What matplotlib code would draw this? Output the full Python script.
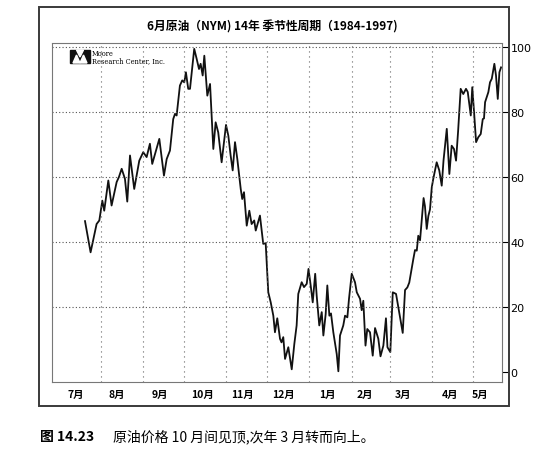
import matplotlib
matplotlib.use("Agg")
import matplotlib.pyplot as plt
from matplotlib.patches import Rectangle, Polygon

plt.rcParams['font.family'] = ['Noto Sans CJK SC', 'DejaVu Sans']

title = "6月原油（NYM) 14年 季节性周期（1984-1997)"
caption_num = "图 14.23"
caption_txt = "原油价格 10 月间见顶,次年 3 月转而向上。"

# days since 1 July
month_starts = [31, 62, 92, 123, 153, 184, 215, 243, 274, 304]
month_labels = ["7月", "8月", "9月", "10月", "11月", "12月", "1月", "2月", "3月", "4月", "5月"]
month_label_pos = [12.8, 42.8, 74.4, 105.2, 134.5, 164.6, 196.9, 224.7, 252.6, 287.1, 309.1]
y_ticks = [0, 20, 40, 60, 80, 100]

days = [19.4, 23.5, 27.9, 29.9, 32.1, 33.5, 36.5, 38.9, 42.6, 44.3, 46.3, 48.7, 50.4, 52.4, 55.5,
        59.2, 62.1, 64.6, 67.0, 68.7, 73.9, 77.3, 79.3, 81.7, 84.1, 85.4, 86.6, 89.0, 90.7, 92.2,
        93.4, 95.1, 96.4, 99.5, 101.3, 103.0, 104.2, 105.7, 106.9, 109.1, 111.1, 113.5, 115.2, 117.1,
        119.6, 122.8, 124.5, 126.2, 127.7, 129.4, 131.1, 133.6, 134.7, 136.0, 138.0, 139.9, 141.6,
        143.5, 144.6, 147.7, 150.1, 151.9, 153.8, 155.6, 157.5, 158.7, 160.4, 162.4, 163.5, 164.8,
        166.1, 168.5, 171.0, 172.9, 174.6, 175.8, 178.3, 180.0, 182.0, 183.3, 184.9, 186.4, 188.2,
        189.3, 191.2, 193.0, 194.2, 195.9, 197.1, 198.6, 199.8, 201.5, 204.0, 205.2, 206.4, 208.8,
        210.1, 211.8, 213.0, 215.0, 217.4, 218.7, 221.1, 222.3, 223.5, 225.1, 226.4, 228.4, 230.4,
        232.1, 234.5, 236.1, 238.2, 240.1, 241.2, 243.3, 245.1, 247.5, 252.4, 254.1, 255.8, 257.2,
        260.2, 261.4, 262.7, 263.8, 265.1, 267.7, 268.7, 270.0, 271.2, 272.4, 273.7, 274.8, 277.3,
        279.2, 281.0, 282.3, 284.7, 286.6, 288.3, 290.0, 291.5, 293.0, 294.9, 296.8, 298.8, 300.1,
        302.3, 303.4, 304.7, 306.2, 307.8, 309.6, 311.1, 312.0, 312.8, 315.2, 316.4, 317.7, 319.6,
        320.8, 322.1, 323.3, 324.5]
values = [46.4, 36.8, 45.5, 46.6, 52.7, 49.6, 58.9, 51.2, 58.4, 60.0, 62.5, 59.4, 52.4, 66.6, 56.3,
          65.0, 67.6, 66.1, 70.2, 64.0, 71.7, 60.4, 65.5, 68.1, 77.8, 79.4, 78.9, 88.1, 89.7, 89.1,
          92.2, 87.1, 87.1, 99.4, 96.3, 93.2, 94.8, 91.2, 97.3, 85.0, 88.6, 68.6, 76.8, 73.7,
          64.5, 76.0, 72.7, 66.6, 62.0, 70.7, 65.5, 56.3, 53.2, 55.3, 45.0, 49.6, 45.5,
          46.6, 43.5, 48.1, 39.4, 39.6, 24.5, 21.4, 17.3, 12.2, 16.5, 10.2, 9.1, 10.7,
          4.0, 7.6, 0.8, 8.6, 14.3, 24.0, 27.6, 26.1, 27.1, 31.7, 26.6, 21.4, 30.2,
          23.5, 14.3, 18.4, 11.2, 17.8, 26.6, 17.3, 18.0, 12.2, 5.5, 0.2, 11.2, 14.3,
          17.3, 16.8, 22.5, 30.2, 27.6, 24.5, 22.5, 19.0, 21.9, 8.1, 13.2, 12.2, 5.0,
          13.5, 10.2, 4.8, 8.1, 16.5, 7.6, 6.1, 24.5, 24.0, 12.0, 25.2, 26.0, 27.5,
          34.8, 37.5, 37.3, 41.9, 40.5, 53.5, 51.0, 44.0, 48.0, 50.0, 56.8, 59.4, 64.5,
          62.0, 57.3, 65.0, 74.8, 60.9, 69.6, 68.6, 65.0, 74.0, 87.1, 85.5, 87.1, 86.1,
          78.9, 87.6, 80.0, 70.7, 72.2, 73.2, 77.8, 78.0, 83.0, 86.1, 89.1, 90.2, 94.8,
          91.2, 84.0, 92.2, 93.7]

W, H = 549, 452
fig = plt.figure(figsize=(W / 100, H / 100), dpi=100)
fig.patch.set_facecolor("white")

# outer frame
fig.add_artist(Rectangle((39 / W, 1 - 407 / H), (509 - 39) / W, (407 - 8) / H,
                         transform=fig.transFigure, fill=False, edgecolor="#3a3a3a", lw=1.4))

ax = fig.add_axes([52 / W, 1 - 383 / H, (502 - 52) / W, (383 - 44) / H])
ax.plot(days, values, color="#111111", lw=1.3)
ax.set_xlim(-4.8, 325.2)
ax.set_ylim(-3.1, 101.2)

for d in month_starts:
    ax.axvline(d, color="#666666", lw=0.8, ls=(0, (1, 3.5)))
for v in [20, 40, 60, 80, 100]:
    ax.axhline(v, color="#555555", lw=0.8, ls=(0, (1, 2)))

ax.yaxis.tick_right()
ax.set_yticks(y_ticks)
ax.set_yticklabels([str(v) for v in y_ticks], fontsize=8, family="DejaVu Sans")
ax.tick_params(axis="y", direction="out", length=4, width=0.8, pad=2)
ax.set_xticks(month_label_pos)
ax.set_xticklabels(month_labels, fontsize=7.5, fontweight="bold")
ax.tick_params(axis="x", length=0, pad=5)
for s in ax.spines.values():
    s.set_color("#777777")
    s.set_linewidth(0.8)
    s.set_linestyle((0, (2, 1)))

# logo (Moore Research Center)
fig.add_artist(Rectangle((70 / W, 1 - 64 / H), 20 / W, 13 / H, transform=fig.transFigure,
                         color="#111111"))
fig.add_artist(Polygon([[73 / W, 1 - 64 / H], [76.5 / W, 1 - 56 / H], [80 / W, 1 - 64 / H]],
                       closed=True, transform=fig.transFigure, color="white"))
fig.add_artist(Polygon([[80 / W, 1 - 64 / H], [83.5 / W, 1 - 56 / H], [87 / W, 1 - 64 / H]],
                       closed=True, transform=fig.transFigure, color="white"))
fig.add_artist(Polygon([[76.5 / W, 1 - 51 / H], [80 / W, 1 - 58 / H], [83.5 / W, 1 - 51 / H]],
                       closed=True, transform=fig.transFigure, color="white"))
fig.text(92 / W, 1 - 54 / H, "Moore", fontsize=4.8, family="DejaVu Serif", va="center", ha="left")
fig.text(92 / W, 1 - 61 / H, "Research Center, Inc.", fontsize=4.8, family="DejaVu Serif",
         va="center", ha="left")

fig.text(272 / W, 1 - 27 / H, title, ha="center", va="center", fontsize=8.5, fontweight="bold")
fig.text(40 / W, 1 - 437 / H, caption_num, ha="left", va="center", fontsize=10, fontweight="bold")
fig.text(113 / W, 1 - 437 / H, caption_txt, ha="left", va="center", fontsize=10)

fig.savefig("out.png", dpi=100)
